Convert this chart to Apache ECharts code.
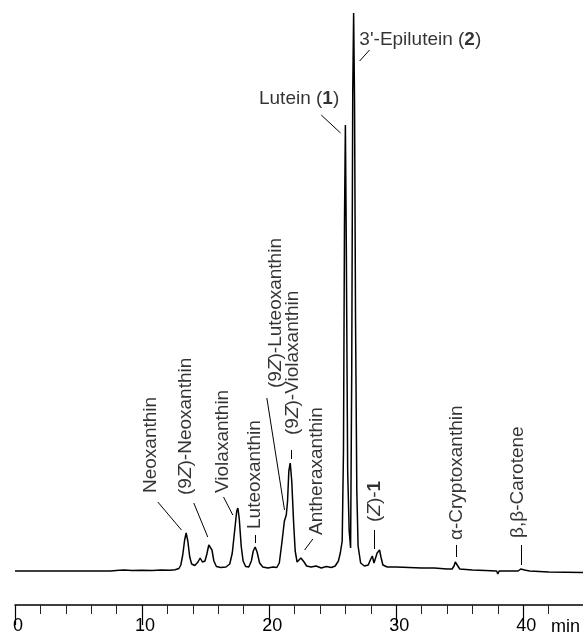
<!DOCTYPE html>
<html>
<head>
<meta charset="utf-8">
<script src="https://cdn.jsdelivr.net/npm/echarts@6/dist/echarts.min.js"></script>
<style>
  html, body { margin: 0; padding: 0; background: #fff; }
  #chart { width: 583px; height: 642px; }
</style>
</head>
<body>
<div id="chart"></div>
<script>
// ---- Data (retention time in min, detector signal in arbitrary units) ----
const retentionTimes = [
  0, 2, 5, 7.5, 8.2, 8.6, 9.2, 10, 10.8, 11.5, 12.2, 12.6,
  12.9, 13.05, 13.2, 13.35, 13.47, 13.6, 13.75, 13.9, 14.15, 14.4, 14.57, 14.75, 14.95,
  15.1, 15.25, 15.36, 15.5, 15.65, 15.85, 16.2, 16.6, 16.9,
  17.1, 17.3, 17.45, 17.54, 17.65, 17.8, 17.95, 18.15, 18.4,
  18.6, 18.75, 18.9, 19.05, 19.25, 19.5, 19.9, 20.3, 20.6,
  20.8, 21.0, 21.2, 21.35, 21.45, 21.55, 21.66, 21.78, 21.92, 22.05, 22.2, 22.35,
  22.5, 22.6, 22.75, 22.95, 23.3, 23.7, 24.1, 24.5, 24.9, 25.2, 25.45, 25.6, 25.75,
  25.85, 25.93, 26.0, 26.07, 26.18, 26.3, 26.41,
  26.5, 26.58, 26.65, 26.72, 26.8, 26.9, 27.0, 27.2, 27.5, 27.8,
  28.0, 28.12, 28.25, 28.35, 28.5, 28.69, 28.8, 28.95, 29.3,
  30, 31, 32, 33, 34, 34.4, 34.55, 34.65, 34.73, 34.85, 35.0, 35.5,
  36, 37, 37.9, 38.0, 38.1, 39, 39.6, 39.8, 39.93, 40.1, 40.5, 42, 44.7
];
const absorbance = [
  0, 0, 0, 0, 0.8, 1, 0.6, 0.8, 0.5, 0.9, 0.7, 1.2,
  2.5, 6, 16, 31, 38, 30, 14, 7, 5.5, 9, 13, 9, 10,
  17, 26, 28, 21, 10, 4.5, 3.5, 4, 7,
  18, 42, 60, 63, 52, 25, 10, 4.5, 4,
  10, 20, 24, 19, 8, 4, 3, 4, 3.5,
  8, 28, 50, 56, 70, 100, 108, 90, 50, 20, 9, 8,
  13, 15, 9, 5, 4, 5, 3, 4.5, 3.5, 5, 10, 18, 30,
  120, 350, 446, 330, 100, 40, 23,
  200, 480, 558, 470, 250, 80, 25, 8, 5, 6,
  12, 15, 8, 10, 18, 21, 14, 6, 4,
  4, 3.5, 3, 3, 2, 2, 5, 9, 11, 5, 2, 1.5,
  1, 0.5, 0, -3, 0, 0, 0, 2, 2.5, 1, 0, -1, -1.5
];

const majorTicks = [0, 10, 20, 30, 40];
const minorTicks = [2, 4, 6, 8, 12, 14, 16, 18, 22, 24, 26, 28, 32, 34, 36, 38, 42];
const axisUnit = 'min';

// Peak labels: text, anchor time, anchor signal level, angle
const labelTexts = [
  'Neoxanthin', '(9{i|Z})-Neoxanthin', 'Violaxanthin', 'Luteoxanthin',
  '(9{i|Z})-Luteoxanthin', '(9{i|Z})-Violaxanthin', 'Antheraxanthin',
  '({i|Z})-{b|1}', 'α-Cryptoxanthin', 'β,β-Carotene',
  'Lutein ({b|1})', "3'-Epilutein ({b|2})"
];
const labelTimes  = [10.72, 13.42, 16.33, 18.85, 20.5, 21.84, 23.77, 28.3, 34.8, 39.56, 19.2, 27.1];
const labelLevels = [78, 76, 78, 42, 183, 136, 36, 49, 31, 33, 472, 531];
const labelAngles = [90, 90, 90, 90, 90, 90, 90, 90, 90, 90, 0, 0];

// Leader lines: [t1, v1, t2, v2]
const leaderLines = [
  [11.24, 69, 13.1, 41],
  [14.07, 68, 15.17, 34],
  [16.41, 74, 17.14, 56],
  [18.93, 36, 18.93, 28],
  [19.82, 173, 21.21, 61],
  [21.72, 121, 21.72, 112],
  [23.44, 32, 22.79, 21],
  [24.1, 456, 25.62, 438],
  [27.9, 521, 27.12, 510],
  [28.3, 41, 28.3, 22],
  [34.73, 26, 34.73, 14],
  [39.85, 26, 39.85, 6]
];

// ---- Chart ----
const FONT = '"Liberation Sans", Arial, Helvetica, sans-serif';
const LABEL_SIZE = 19;
const trace = retentionTimes.map((t, i) => [t, absorbance[i]]);

const chart = echarts.init(document.getElementById('chart'), null, { renderer: 'canvas' });
chart.setOption({
  animation: false,
  backgroundColor: '#fff',
  grid: { left: 15, right: 0, top: 0, bottom: 37, containLabel: false },
  xAxis: [
    {
      type: 'value', min: 0, max: 44.7, interval: 10,
      axisLine: { show: true, onZero: false, lineStyle: { color: '#000', width: 1.5 } },
      axisTick: { show: true, length: 20, customValues: majorTicks, lineStyle: { color: '#000', width: 1.2 } },
      axisLabel: {
        show: true, customValues: majorTicks, margin: 12, color: '#000',
        fontSize: 18, fontFamily: FONT, padding: [0, 0, 0, 6]
      },
      splitLine: { show: false },
      name: axisUnit, nameLocation: 'end', nameGap: -3,
      nameTextStyle: { color: '#000', fontSize: 18, fontFamily: FONT, align: 'right', verticalAlign: 'top', padding: [13, 0, 0, 0] }
    },
    {
      type: 'value', min: 0, max: 44.7, position: 'bottom',
      axisLine: { show: false, onZero: false },
      axisTick: { show: true, length: 9, customValues: minorTicks, lineStyle: { color: '#222', width: 1 } },
      axisLabel: { show: false },
      splitLine: { show: false }
    }
  ],
  yAxis: { type: 'value', min: -34, max: 571, show: false, splitLine: { show: false } },
  series: [
    {
      type: 'line', xAxisIndex: 0, data: trace, showSymbol: false, smooth: false,
      lineStyle: { color: '#000', width: 1.5 },
      silent: true,
      markLine: {
        silent: true, animation: false, symbol: ['none', 'none'],
        label: { show: false },
        lineStyle: { color: '#000', width: 1, type: 'solid' },
        data: leaderLines.map(l => [{ coord: [l[0], l[1]] }, { coord: [l[2], l[3]] }])
      }
    },
    {
      type: 'scatter', xAxisIndex: 0, symbolSize: 0, silent: true,
      data: labelTimes.map((t, i) => ({
        value: [t, labelLevels[i]],
        label: { rotate: labelAngles[i], formatter: labelTexts[i] }
      })),
      label: {
        show: true, position: [0, 0], align: 'left', verticalAlign: 'middle',
        color: '#000', fontSize: LABEL_SIZE, fontFamily: FONT,
        rich: {
          i: { fontStyle: 'italic', fontSize: LABEL_SIZE, fontFamily: FONT, color: '#000' },
          b: { fontWeight: 'bold', fontSize: LABEL_SIZE, fontFamily: FONT, color: '#000' }
        }
      }
    }
  ]
});
</script>
</body>
</html>
